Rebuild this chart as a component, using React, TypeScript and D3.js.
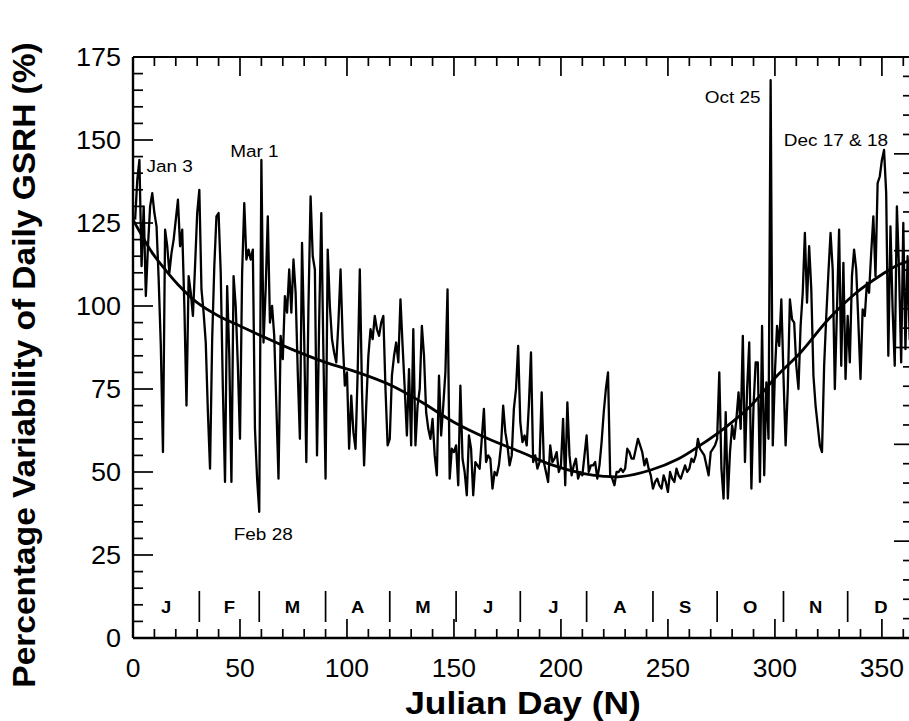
import React from 'react';
import * as d3 from 'd3';

// Daily percentage variability of GSRH, Julian day 1..365
const firstDay = 1;
const gsrhValues = [
  126, 138, 144, 112, 130, 103, 118, 130, 134, 128,
  124, 108, 88, 56, 123, 118, 110, 116, 120, 126,
  132, 118, 123, 100, 70, 109, 104, 97, 112, 128,
  135, 105, 98, 89, 68, 51, 90, 112, 127, 128,
  110, 75, 47, 106, 85, 47, 109, 100, 82, 60,
  110, 131, 114, 117, 114, 117, 63, 48, 38, 144,
  89, 105, 127, 95, 100, 91, 70, 48, 91, 84,
  103, 98, 111, 98, 114, 104, 80, 60, 119, 90,
  53, 100, 133, 115, 111, 55, 95, 128, 85, 48,
  117, 100, 90, 86, 83, 95, 111, 90, 76, 80,
  57, 73, 62, 57, 80, 111, 75, 52, 70, 85,
  93, 90, 97, 93, 91, 95, 97, 75, 58, 60,
  79, 85, 89, 83, 102, 88, 75, 61, 81, 58,
  93, 58, 70, 75, 94, 85, 68, 63, 60, 66,
  55, 49, 79, 61, 70, 80, 105, 48, 57, 56,
  58, 46, 76, 54, 50, 43, 61, 57, 43, 53,
  52, 51, 60, 69, 53, 55, 54, 45, 50, 49,
  52, 58, 70, 62, 58, 52, 55, 69, 75, 88,
  65, 59, 61, 58, 70, 86, 53, 55, 51, 53,
  74, 53, 50, 47, 58, 53, 54, 56, 50, 52,
  66, 46, 71, 55, 49, 52, 54, 48, 50, 49,
  55, 61, 50, 52, 52, 53, 48, 52, 59, 68,
  75, 80, 49, 48, 46, 50, 50, 51, 50, 51,
  57, 56, 54, 54, 57, 60, 58, 56, 52, 54,
  51, 49, 45, 47, 48, 46, 45, 49, 47, 44,
  50, 48, 47, 51, 49, 48, 50, 52, 50, 51,
  54, 53, 55, 60, 57, 56, 55, 52, 49, 56,
  57, 58, 60, 80, 51, 42, 68, 42, 56, 64,
  60, 66, 74, 63, 91, 53, 75, 89, 45, 70,
  83, 83, 47, 94, 49, 77, 60, 168, 58, 80,
  94, 88, 102, 79, 58, 75, 102, 96, 95, 82,
  75, 94, 104, 122, 101, 118, 105, 79, 70, 64,
  58, 56, 82, 97, 110, 122, 111, 75, 99, 123,
  82, 113, 78, 97, 83, 109, 117, 111, 95, 78,
  99, 97, 107, 104, 116, 127, 109, 137, 139, 144,
  147, 134, 85, 124, 99, 82, 130, 111, 83, 125,
  87, 115, 90, 120, 105,
];

// Smooth fitted curve (read at these days)
const fitDays = [0, 3, 9, 15, 21, 30, 40, 50, 60, 74, 90, 105, 121, 135, 150, 166, 182, 195, 210, 220, 228, 242, 255, 265, 276, 288, 301, 312, 325, 338, 350, 358, 365];
const fitValues = [126, 122.5, 116, 111, 106.5, 101, 97, 94, 91, 87, 83, 80, 76, 71, 65, 60, 55.8, 52.3, 49.6, 48.7, 48.6, 50.6, 54, 58, 63, 69.5, 79, 86, 96, 104, 109.5, 112.5, 114];

const yTickLabels = [0, 25, 50, 75, 100, 125, 150, 175];
const xTickLabels = [0, 50, 100, 150, 200, 250, 300, 350];
const monthLetters = ['J', 'F', 'M', 'A', 'M', 'J', 'J', 'A', 'S', 'O', 'N', 'D'];
const monthEnds = [0, 31, 59, 90, 120, 151, 181, 212, 243, 273, 304, 334, 365];

const annotationLabels = ['Jan 3', 'Mar 1', 'Feb 28', 'Oct 25', 'Dec 17 & 18'];
const annotationDays = [3, 60, 59, 298, 351];

const FONT = "'Liberation Sans', Arial, Helvetica, sans-serif";

function SText(props: any) {
  const { x, y, sx = 1, rotate = 0, anchor = 'start', size, weight = 'normal', children } = props;
  return (
    <text
      transform={`translate(${x},${y}) rotate(${rotate}) scale(${sx},1)`}
      textAnchor={anchor}
      fontSize={size}
      fontWeight={weight}
      fontFamily={FONT}
      fill="#000"
    >
      {children}
    </text>
  );
}

export default function App() {
  const W = 909, H = 721;
  const left = 133, right = 914, top = 57, bottom = 638;
  const x = d3.scaleLinear().domain([0, 365]).range([left, right]);
  const y = d3.scaleLinear().domain([0, 175]).range([bottom, top]);
  const yRight = d3.scaleLinear().domain([0, 30]).range([bottom, top]);

  const pts: [number, number][] = gsrhValues.map((v, i) => [firstDay + i, v]);
  const dataLine = d3.line<[number, number]>().x(d => x(d[0])).y(d => y(d[1]))(pts) || '';
  const fitPts: [number, number][] = fitDays.map((d, i) => [d, fitValues[i]]);
  const fitLine = d3.line<[number, number]>().x(d => x(d[0])).y(d => y(d[1])).curve(d3.curveCatmullRom.alpha(0.5))(fitPts) || '';

  const xMinor = d3.range(0, 366, 10);
  const yMinor = d3.range(0, 176, 5);
  const rMinor = d3.range(0, 31, 1);

  const ann = annotationDays.map((d, i) => {
    const v = gsrhValues[d - firstDay];
    return { label: annotationLabels[i], px: x(d), py: y(v) };
  });
  const annPlace = [
    { dx: 7, dy: 12, anchor: 'start' },
    { dx: -7, dy: -3, anchor: 'middle' },
    { dx: 4, dy: 28, anchor: 'middle' },
    { dx: -10, dy: 23, anchor: 'end' },
    { dx: 4, dy: -4, anchor: 'end' },
  ];

  return (
    <svg width={W} height={H} style={{ position: 'absolute', left: 0, top: 0, background: '#fff' }}>
      <rect x={0} y={0} width={W} height={H} fill="#fff" />
      <g stroke="#000" fill="none">
        <line x1={left} y1={top} x2={right} y2={top} strokeWidth={2} />
        <line x1={left} y1={bottom} x2={right} y2={bottom} strokeWidth={2.4} />
        <line x1={left} y1={top} x2={left} y2={bottom} strokeWidth={2.4} />
        <line x1={right} y1={top} x2={right} y2={bottom} strokeWidth={2} />
        {xMinor.map(d => {
          const L = d % 50 === 0 ? 19 : 9;
          return (
            <g key={'xt' + d}>
              <line x1={x(d)} x2={x(d)} y1={bottom} y2={bottom - L} strokeWidth={1.7} />
              <line x1={x(d)} x2={x(d)} y1={top} y2={top + L} strokeWidth={1.7} />
            </g>
          );
        })}
        {yMinor.map(v => {
          const L = v % 25 === 0 ? 20 : 10;
          return <line key={'yt' + v} x1={left} x2={left + L} y1={y(v)} y2={y(v)} strokeWidth={1.7} />;
        })}
        {rMinor.map(v => {
          const L = v % 5 === 0 ? 20 : 11;
          return <line key={'rt' + v} x1={right} x2={right - L} y1={yRight(v)} y2={yRight(v)} strokeWidth={1.7} />;
        })}
        {monthEnds.slice(1, -1).map((d, i) => (
          <line key={'ms' + i} x1={x(d)} x2={x(d)} y1={bottom - 47} y2={bottom - 16} strokeWidth={1.7} />
        ))}
        <path d={dataLine} strokeWidth={2.3} strokeLinejoin="round" />
        <path d={fitLine} strokeWidth={2.8} />
      </g>

      {monthLetters.map((m, i) => (
        <SText key={'ml' + i} x={x((monthEnds[i] + monthEnds[i + 1]) / 2)} y={bottom - 25} anchor="middle" size={16.5} weight="bold" sx={1.12}>{m}</SText>
      ))}

      {yTickLabels.map(v => (
        <SText key={'yl' + v} x={121} y={y(v) + 9} anchor="end" size={25} sx={1.08}>{v}</SText>
      ))}
      {xTickLabels.map(d => (
        <SText key={'xl' + d} x={x(d)} y={677} anchor="middle" size={25} sx={1.06}>{d}</SText>
      ))}

      {ann.map((a, i) => (
        <SText key={'an' + i} x={a.px + annPlace[i].dx} y={a.py + annPlace[i].dy} anchor={annPlace[i].anchor} size={16.5} sx={1.15}>{a.label}</SText>
      ))}

      <SText x={523} y={714} anchor="middle" size={31} weight="bold" sx={1.14}>Julian Day (N)</SText>
      <SText x={35} y={365} rotate={-90} anchor="middle" size={31} weight="bold" sx={1.08}>Percentage Variability of Daily GSRH (%)</SText>
    </svg>
  );
}
